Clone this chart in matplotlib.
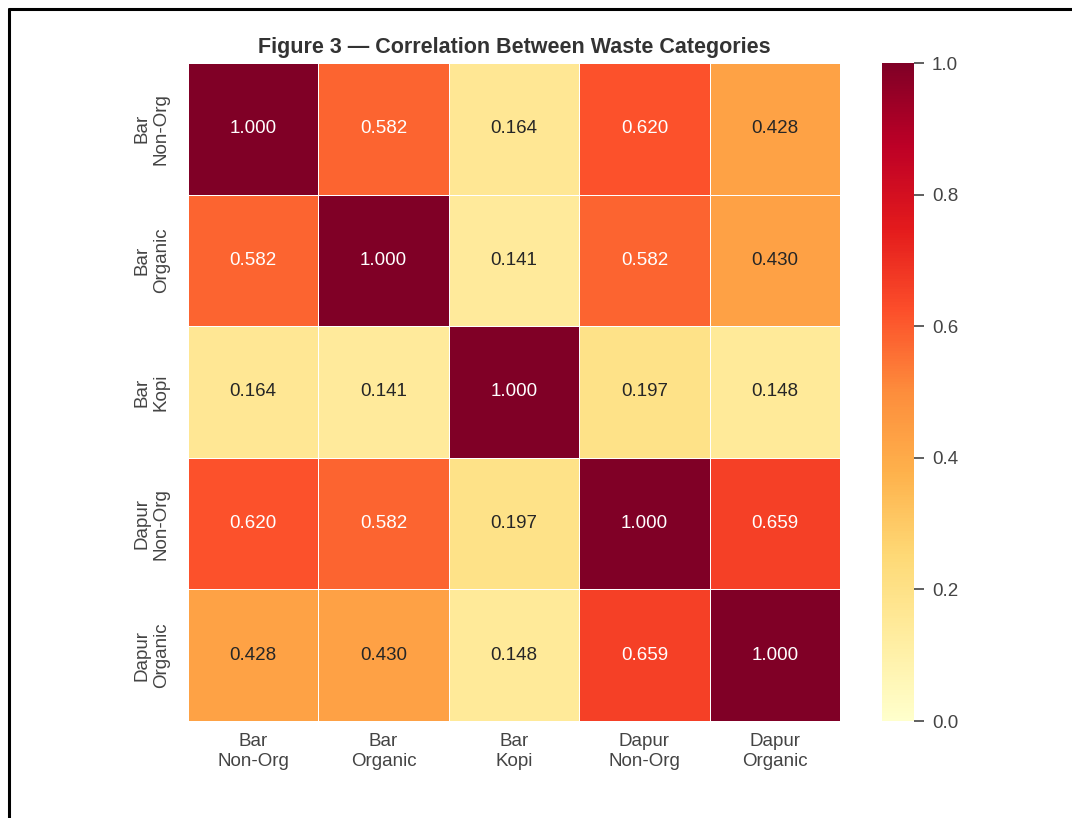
import numpy as np
import pandas as pd
import matplotlib
matplotlib.use("Agg")
import matplotlib.pyplot as plt
from matplotlib.lines import Line2D
import seaborn as sns

sns.set_theme(style="white")
plt.rcParams["font.family"] = ["Liberation Sans", "DejaVu Sans"]

categories = ["Bar\nNon-Org", "Bar\nOrganic", "Bar\nKopi", "Dapur\nNon-Org", "Dapur\nOrganic"]
bar_nonorg = [1.000, 0.582, 0.164, 0.620, 0.428]
bar_organic = [0.582, 1.000, 0.141, 0.582, 0.430]
bar_kopi = [0.164, 0.141, 1.000, 0.197, 0.148]
dapur_nonorg = [0.620, 0.582, 0.197, 1.000, 0.659]
dapur_organic = [0.428, 0.430, 0.148, 0.659, 1.000]

corr = pd.DataFrame([bar_nonorg, bar_organic, bar_kopi, dapur_nonorg, dapur_organic],
                    index=categories, columns=categories)

W, H = 1072, 818
fig = plt.figure(figsize=(W / 100, H / 100), dpi=100)
ax = fig.add_axes([188 / W, 1 - 721 / H, (840 - 188) / W, (721 - 63) / H])
cax = fig.add_axes([882 / W, 1 - 721 / H, (914 - 882) / W, (721 - 63) / H])

sns.heatmap(corr, ax=ax, cbar_ax=cax, annot=True, fmt=".3f", cmap="YlOrRd",
            vmin=0, vmax=1, linewidths=0.6, linecolor="white",
            annot_kws={"fontsize": 13.5})

ax.set_title("Figure 3 \u2014 Correlation Between Waste Categories",
             fontsize=15.5, fontweight="bold", color="#333333", pad=7)
ax.tick_params(axis="both", length=0, labelsize=13.5, colors="#444444")
ax.set_xticklabels(categories, rotation=0, ha="center")
ax.set_yticklabels(categories, rotation=90, va="center", ha="right")
for lbl in ax.get_yticklabels():
    lbl.set_multialignment("center")
ax.tick_params(axis="x", pad=9)
ax.tick_params(axis="y", pad=13)

cax.tick_params(labelsize=13.5, colors="#444444", length=7, width=1.2, pad=6)
cax.set_yticks([0.0, 0.2, 0.4, 0.6, 0.8, 1.0])

# frame lines along the left and top edge
fig.add_artist(Line2D([9 / W, 9 / W], [0, 1 - 9 / H], transform=fig.transFigure,
                      color="black", linewidth=2.2))
fig.add_artist(Line2D([9 / W, 1], [1 - 9 / H, 1 - 9 / H], transform=fig.transFigure,
                      color="black", linewidth=2.2))

fig.savefig("out.png", dpi=100)
